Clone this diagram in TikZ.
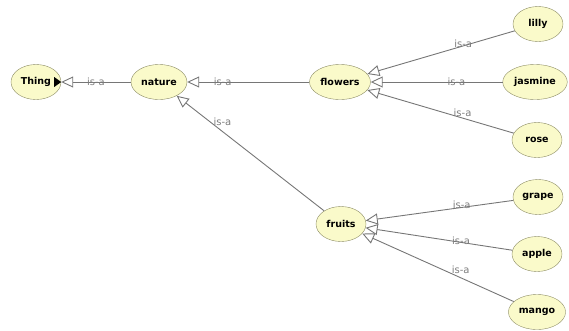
\documentclass[tikz,border=0pt]{standalone}
\usepackage{fontspec}
\setmainfont{DejaVu Sans}
\usetikzlibrary{arrows.meta, shapes.geometric}
\definecolor{clsfill}{RGB}{250,250,202}
\definecolor{clsline}{RGB}{140,140,100}
\definecolor{edgegray}{RGB}{118,118,118}
\definecolor{lblgray}{RGB}{125,125,125}
\tikzset{
  cls/.style={ellipse, draw=clsline, fill=clsfill, inner xsep=2pt, minimum height=35pt,
    minimum width=50pt, font=\fontsize{9.5}{12}\selectfont\bfseries},
  isa/.style={draw=edgegray, line width=0.9pt, -{Triangle[open, length=12pt, width=11pt]}},
  lbl/.style={text=lblgray, inner sep=0pt, font=\fontsize{10}{11}\selectfont}
}
\begin{document}
\begin{tikzpicture}[x=1pt, y=-1pt]
  \useasboundingbox (0,0) rectangle (569,330);
  % classes
  \node [cls] (Thing) at (36, 82) {Thing};
  \node [cls] (nature) at (159, 82) {nature};
  \node [cls] (flowers) at (340, 82) {flowers};
  \node [cls] (fruits) at (341, 224) {fruits};
  \node [cls] (lilly) at (538, 24) {lilly};
  \node [cls] (jasmine) at (535, 82) {jasmine};
  \node [cls] (rose) at (537, 140) {rose};
  \node [cls] (grape) at (538, 197) {grape};
  \node [cls] (apple) at (537, 254) {apple};
  \node [cls] (mango) at (537, 312) {mango};
  % expander mark
  \fill (Thing.east) -- ++(-7, -5) -- ++(0, 10) -- cycle;
  % is-a links
  \draw [isa] (nature) -- node [lbl, pos=0.5] {is-a} (Thing);
  \draw [isa] (flowers) -- node [lbl, pos=0.71] {is-a} (nature);
  \draw [isa] (fruits) -- node [lbl, pos=0.69, yshift=10pt] {is-a} (nature);
  \foreach \kid/\up in {lilly/2, jasmine/0, rose/5}
    \draw [isa] (\kid) -- node [lbl, pos=0.35, yshift=\up pt] {is-a} (flowers);
  \foreach \kid/\up in {grape/3, apple/2, mango/8}
    \draw [isa] (\kid) -- node [lbl, pos=0.35, yshift=\up pt] {is-a} (fruits);
\end{tikzpicture}
\end{document}
